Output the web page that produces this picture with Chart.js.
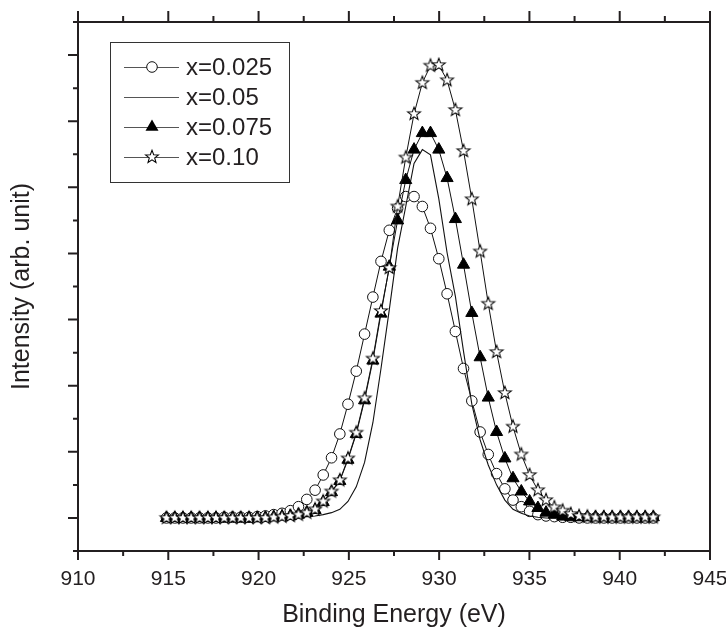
<!DOCTYPE html>
<html>
<head>
<meta charset="utf-8">
<title>XPS Cu 2p</title>
<script src="https://cdn.jsdelivr.net/npm/chart.js@4.4.1/dist/chart.umd.min.js"></script>
<style>
  html, body { margin: 0; padding: 0; background: #fff; }
  #box { width: 726px; height: 632px; }
</style>
</head>
<body>
<div id="box"><canvas id="xps" width="726" height="632"></canvas></div>
<script>
// binding energy grid (eV), shared by all four spectra
const energy = [
  914.90, 915.36, 915.81, 916.27, 916.73, 917.19, 917.64, 918.10, 918.56, 919.01,
  919.47, 919.93, 920.38, 920.84, 921.30, 921.76, 922.21, 922.67, 923.13, 923.58,
  924.04, 924.50, 924.95, 925.41, 925.87, 926.33, 926.78, 927.24, 927.70, 928.15,
  928.61, 929.07, 929.52, 929.98, 930.44, 930.90, 931.35, 931.81, 932.27, 932.72,
  933.18, 933.64, 934.09, 934.55, 935.01, 935.47, 935.92, 936.38, 936.84, 937.29,
  937.75, 938.21, 938.66, 939.12, 939.58, 940.04, 940.49, 940.95, 941.41, 941.86
];

// intensities (arb. unit)
const x025 = [
  0, 0, 0, 0, 0, 0, 0, 0.01, 0.01, 0.01,
  0.01, 0.02, 0.03, 0.05, 0.07, 0.11, 0.17, 0.28, 0.42, 0.65,
  0.91, 1.27, 1.72, 2.22, 2.78, 3.34, 3.88, 4.35, 4.68, 4.86,
  4.86, 4.71, 4.38, 3.92, 3.39, 2.82, 2.26, 1.77, 1.30, 0.96,
  0.67, 0.44, 0.27, 0.17, 0.10, 0.05, 0.03, 0.02, 0.01, 0.01,
  0, 0, 0, 0, 0, 0, 0, 0, 0, 0
];
const x05 = [
  0, 0, 0, 0, 0, 0, 0, 0, 0, 0,
  0, 0, 0, 0, 0, 0, 0.01, 0.02, 0.03, 0.05,
  0.08, 0.13, 0.25, 0.47, 0.84, 1.44, 2.26, 3.15, 4.08, 4.71,
  5.36, 5.57, 5.49, 4.83, 4.01, 3.35, 2.52, 1.72, 1.18, 0.80,
  0.50, 0.27, 0.13, 0.07, 0.03, 0.01, 0, 0, 0, 0,
  0, 0, 0, 0, 0, 0, 0, 0, 0, 0
];
const x075 = [
  0, 0, 0, 0, 0, 0, 0, 0, 0, 0,
  0, 0, 0, 0.01, 0.02, 0.03, 0.05, 0.08, 0.12, 0.24,
  0.39, 0.56, 0.88, 1.27, 1.78, 2.38, 3.09, 3.80, 4.50, 5.11,
  5.57, 5.82, 5.82, 5.57, 5.14, 4.52, 3.83, 3.10, 2.43, 1.82,
  1.30, 0.90, 0.60, 0.40, 0.25, 0.15, 0.08, 0.05, 0.02, 0.01,
  0.01, 0.01, 0.01, 0.01, 0.01, 0.01, 0.01, 0.01, 0.01, 0.01
];
const x10 = [
  0, 0, 0, 0, 0, 0, 0, 0, 0, 0,
  0, 0, 0, 0.01, 0.02, 0.03, 0.05, 0.08, 0.13, 0.25,
  0.40, 0.57, 0.90, 1.29, 1.81, 2.41, 3.13, 3.78, 4.71, 5.45,
  6.11, 6.58, 6.84, 6.85, 6.62, 6.17, 5.55, 4.82, 4.03, 3.24,
  2.51, 1.89, 1.38, 0.96, 0.65, 0.42, 0.27, 0.16, 0.11, 0.06,
  0.03, 0.02, 0.01, 0.01, 0.01, 0.01, 0.01, 0.01, 0.01, 0.01
];

const seriesLabels = ['x=0.025', 'x=0.05', 'x=0.075', 'x=0.10'];

const INK = '#231f20';
const FONT = "'Liberation Sans', Arial, sans-serif";

// open five-pointed star used as a point style
function makeStar(r, lw) {
  const s = Math.ceil(2 * r + 2 * lw + 2);
  const c = document.createElement('canvas');
  c.width = c.height = s;
  const g = c.getContext('2d');
  g.beginPath();
  for (let i = 0; i < 10; i++) {
    const rr = i % 2 ? r * 0.42 : r;
    const a = -Math.PI / 2 + i * Math.PI / 5;
    g.lineTo(s / 2 + rr * Math.cos(a), s / 2 + rr * Math.sin(a));
  }
  g.closePath();
  g.fillStyle = '#fff';
  g.fill();
  g.lineWidth = lw;
  g.strokeStyle = '#000';
  g.stroke();
  return c;
}
const STAR = makeStar(6.8, 1.05);

function pts(vals) {
  return energy.map((e, i) => ({x: e, y: vals[i]}));
}

// frame, outward ticks on left/top/bottom, and the boxed legend
const framePlugin = {
  id: 'frame',
  afterDraw(chart) {
    const {ctx, chartArea: a, scales: {x, y}} = chart;
    ctx.save();
    ctx.strokeStyle = INK;
    ctx.lineWidth = 2;
    ctx.strokeRect(a.left, a.top, a.right - a.left, a.bottom - a.top);

    ctx.beginPath();
    const xt = x.ticks.map(t => t.value);
    xt.forEach((v, i) => {
      const px = x.getPixelForValue(v);
      ctx.moveTo(px, a.bottom); ctx.lineTo(px, a.bottom + 9);
      ctx.moveTo(px, a.top); ctx.lineTo(px, a.top - 11);
      if (i < xt.length - 1) {
        const mx = x.getPixelForValue((v + xt[i + 1]) / 2);
        ctx.moveTo(mx, a.bottom); ctx.lineTo(mx, a.bottom + 5);
        ctx.moveTo(mx, a.top); ctx.lineTo(mx, a.top - 6);
      }
    });
    y.ticks.forEach(t => {
      const py = y.getPixelForValue(t.value);
      const major = Math.abs(t.value - Math.round(t.value)) < 1e-6;
      ctx.moveTo(a.left, py); ctx.lineTo(a.left - (major ? 10 : 5), py);
    });
    ctx.stroke();

    // legend
    const L = {x: 110.5, y: 42.5, w: 179, h: 140};
    ctx.lineWidth = 1;
    ctx.strokeStyle = '#333';
    ctx.fillStyle = '#fff';
    ctx.fillRect(L.x, L.y, L.w, L.h);
    ctx.strokeRect(L.x, L.y, L.w, L.h);
    const rows = [67, 97, 127, 157];
    ctx.font = '24px ' + FONT;
    ctx.textBaseline = 'middle';
    rows.forEach((ry, i) => {
      ctx.strokeStyle = '#555';
      ctx.lineWidth = 1;
      ctx.beginPath();
      ctx.moveTo(124, ry + 0.5); ctx.lineTo(179, ry + 0.5);
      ctx.stroke();
      const mx = 152;
      ctx.strokeStyle = '#111';
      if (i === 0) {
        ctx.beginPath();
        ctx.arc(mx, ry, 5.3, 0, Math.PI * 2);
        ctx.fillStyle = '#fff'; ctx.fill(); ctx.stroke();
      } else if (i === 2) {
        const r = 7.5;
        ctx.beginPath();
        ctx.moveTo(mx, ry - r);
        ctx.lineTo(mx + r * Math.sin(2 * Math.PI / 3), ry + r / 2);
        ctx.lineTo(mx - r * Math.sin(2 * Math.PI / 3), ry + r / 2);
        ctx.closePath();
        ctx.fillStyle = '#000'; ctx.fill();
      } else if (i === 3) {
        ctx.drawImage(STAR, mx - STAR.width / 2, ry - STAR.height / 2);
      }
      ctx.fillStyle = INK;
      ctx.fillText(seriesLabels[i], 186, ry + 1);
    });
    ctx.restore();
  }
};

const lineBase = {
  showLine: true,
  borderColor: '#111',
  borderWidth: 1,
  pointBorderWidth: 1,
  pointHoverRadius: 0
};

new Chart(document.getElementById('xps'), {
  type: 'scatter',
  data: {
    datasets: [
      Object.assign({}, lineBase, {
        label: seriesLabels[3], data: pts(x10), order: 0,
        pointStyle: STAR, pointRadius: 7
      }),
      Object.assign({}, lineBase, {
        label: seriesLabels[2], data: pts(x075), order: 1,
        pointStyle: 'triangle', pointRadius: 7,
        pointBackgroundColor: '#000', pointBorderColor: '#000'
      }),
      Object.assign({}, lineBase, {
        label: seriesLabels[1], data: pts(x05), order: 2,
        pointRadius: 0, borderWidth: 1.1
      }),
      Object.assign({}, lineBase, {
        label: seriesLabels[0], data: pts(x025), order: 3,
        pointStyle: 'circle', pointRadius: 5.3,
        pointBackgroundColor: '#fff', pointBorderColor: '#111'
      })
    ]
  },
  options: {
    responsive: false,
    animation: false,
    devicePixelRatio: 1,
    layout: {padding: {left: 0, right: 16, top: 22, bottom: 0}, autoPadding: false},
    plugins: {legend: {display: false}, tooltip: {enabled: false}},
    scales: {
      x: {
        type: 'linear', min: 910, max: 945,
        grid: {display: false, drawTicks: false},
        border: {display: false},
        ticks: {stepSize: 5, padding: 16, color: INK, font: {family: FONT, size: 21}},
        title: {display: true, text: 'Binding Energy (eV)', color: INK,
                font: {family: FONT, size: 25}, padding: {top: 0, bottom: 2}},
        afterFit(s) { s.height = 81; s.paddingLeft = 0; s.paddingRight = 0; }
      },
      y: {
        min: -0.5, max: 7.5,
        grid: {display: false, drawTicks: false},
        border: {display: false},
        ticks: {display: false, stepSize: 0.5},
        title: {display: true, text: 'Intensity (arb. unit)', color: INK,
                font: {family: FONT, size: 25}, padding: {top: 7, bottom: 0}},
        afterFit(s) { s.width = 78; }
      }
    }
  },
  plugins: [framePlugin]
});
</script>
</body>
</html>
